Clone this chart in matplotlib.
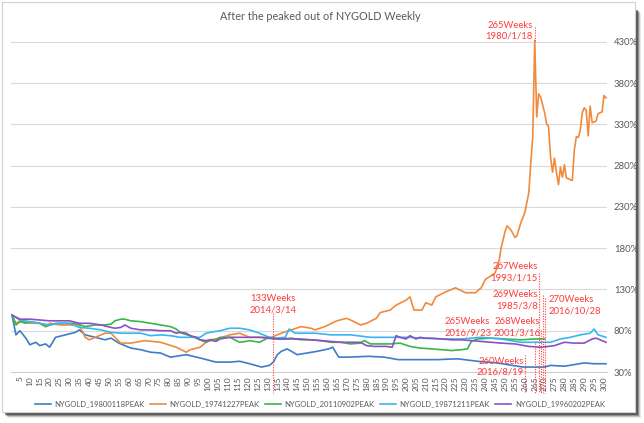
import matplotlib
matplotlib.use('Agg')
import matplotlib.pyplot as plt
from matplotlib.patches import Rectangle

plt.rcParams['font.family'] = ['Lato', 'DejaVu Sans']

# weekly ratio to peak (%) - read off the reference, not every week
wk_1980 = [1, 3, 5, 8, 10, 13, 15, 18, 20, 23, 28, 33, 35, 38, 43, 48, 51, 55, 61, 66, 71, 76, 81, 89,
           96, 104, 111, 116, 121, 127, 131, 133, 135, 137, 140, 145, 150, 155, 161, 163, 166, 171, 181,
           189, 196, 206, 216, 226, 236, 246, 259, 266, 270, 273, 280, 290, 295, 301]
val_1980 = [99, 75, 80, 71, 63, 66, 62, 64, 60, 72, 75, 78, 81, 75, 72, 69, 71, 65, 59, 57, 54, 53, 48, 51,
            47, 42, 42, 43, 40, 36, 38, 42, 51, 55, 58, 51, 53, 55, 58, 60, 48, 48, 49,
            48, 45, 45, 45, 46, 43, 41, 36, 36, 36, 38, 37, 41, 40, 40]

wk_1974 = [1, 3, 5, 10, 15, 18, 20, 25, 30, 35, 38, 40, 43, 48, 51, 53, 56, 61, 68, 76, 84, 89, 91, 96,
           99, 101, 106, 111, 116, 121, 127, 132, 137, 142, 147, 152, 154, 159, 165, 170, 172, 177, 180,
           185, 187, 192, 195, 200, 202, 204, 208, 210, 213, 215, 220, 225, 230, 235, 238, 240, 245, 247,
           248, 250, 251, 253, 255, 256, 258, 260, 262, 263, 264, 265, 266, 267, 268, 270, 271, 272, 273,
           274, 275, 276, 277, 278, 279, 280, 281, 282, 284, 285, 286, 287, 288, 289, 290, 291, 292, 293,
           294, 296, 297, 299, 300, 301]
val_1974 = [99, 89, 92, 89, 89, 85, 89, 87, 87, 87, 72, 69, 72, 77, 77, 72, 65, 65, 68, 66, 60, 54, 57, 60,
            66, 69, 71, 75, 77, 72, 72, 72, 77, 81, 85, 83, 81, 85, 92, 95, 93, 87, 89,
            95, 102, 105, 111, 117, 121, 105, 105, 114, 111, 121, 127, 132, 126, 126, 132, 142, 150, 165,
            180, 200, 207, 202, 193, 195, 211, 223, 247, 283, 315, 432, 339, 367, 363, 344, 331, 327, 290,
            272, 289, 271, 257, 278, 266, 281, 265, 264, 262, 299, 315, 314, 323, 344, 350, 347, 316, 352,
            332, 334, 343, 345, 365, 362]

wk_2011 = [1, 3, 5, 8, 10, 15, 18, 23, 28, 33, 38, 43, 48, 51, 53, 56, 58, 61, 66, 71, 76, 81, 84, 86,
           88, 91, 96, 99, 101, 104, 106, 109, 111, 116, 119, 121, 126, 130, 134, 137, 142, 147, 152,
           157, 162, 167, 172, 177, 179, 182, 187, 192, 197, 202, 207, 213, 218, 223, 228, 231, 233,
           236, 243, 250, 258, 265, 270]
val_2011 = [99, 87, 91, 89, 91, 89, 85, 89, 89, 89, 85, 87, 87, 88, 92, 94, 94, 92, 91, 89, 87, 85, 82, 78,
            76, 74, 69, 66, 68, 69, 72, 72, 72, 66, 67, 68, 66, 71, 70, 70, 71, 69, 69,
            68, 66, 66, 64, 65, 68, 64, 64, 64, 65, 61, 59, 58, 57, 56, 57, 58, 67,
            70, 71, 70, 69, 70, 70]

wk_1987 = [1, 5, 10, 15, 20, 25, 30, 35, 40, 46, 51, 56, 61, 66, 71, 76, 81, 86, 91, 96, 99, 101, 106,
           111, 116, 121, 126, 131, 134, 139, 141, 144, 147, 154, 162, 172, 182, 192, 202, 207, 218, 228,
           233, 238, 248, 258, 268, 273, 278, 283, 288, 293, 295, 297, 301]
val_1987 = [99, 93, 91, 89, 87, 89, 89, 84, 83, 81, 78, 77, 77, 77, 74, 75, 74, 72, 72, 72, 77, 78, 80,
            83, 83, 81, 77, 72, 71, 72, 82, 77, 77, 77, 75, 75, 72, 72, 72, 71, 70, 70,
            71, 72, 70, 66, 66, 66, 70, 72, 75, 77, 82, 75, 72]

wk_1996 = [1, 5, 10, 15, 20, 25, 30, 35, 40, 46, 51, 53, 56, 58, 61, 66, 71, 76, 81, 84, 86, 89, 91, 94,
           96, 99, 101, 104, 106, 111, 116, 121, 126, 131, 136, 142, 147, 152, 157, 162, 167, 172, 177,
           180, 184, 190, 193, 195, 197, 200, 202, 205, 207, 210, 213, 218, 223, 228, 233, 238, 243, 248,
           255, 262, 268, 272, 275, 280, 285, 290, 294, 296, 299, 301]
val_1996 = [99, 94, 94, 93, 92, 92, 92, 89, 89, 87, 84, 83, 84, 87, 83, 81, 81, 80, 80, 77, 78, 77, 74, 72,
            69, 68, 69, 67, 70, 72, 72, 72, 72, 71, 70, 70, 70, 69, 68, 67, 66, 66, 66,
            62, 61, 61, 60, 74, 72, 70, 74, 70, 72, 71, 71, 70, 69, 69, 68, 67, 66, 65,
            64, 61, 60, 61, 62, 66, 65, 65, 70, 71, 68, 66]

series_names = ['NYGOLD_19800118PEAK', 'NYGOLD_19741227PEAK', 'NYGOLD_20110902PEAK',
                'NYGOLD_19871211PEAK', 'NYGOLD_19960202PEAK']
series_colors = ['#3E7CC6', '#F08A3C', '#3BB54A', '#38B6F1', '#8C50C4']

# marked weeks and their labels
notes_week = [133, 260, 265, 267, 268, 269, 270]
notes_text = ['133Weeks\n2014/3/14', '260Weeks\n2016/8/19', '265Weeks\n2016/9/23', '267Weeks\n1993/1/15',
              '268Weeks\n2001/3/16', '269Weeks\n1985/3/8', '270Weeks\n2016/10/28']

RED = '#FF3B3B'
GRAY = '#595959'

fig = plt.figure(figsize=(6.44, 4.23), dpi=100)
W, H = 644, 423

# chart frame with shadow
for i, a in enumerate([0.10, 0.20, 0.35, 0.55]):
    d = 6 - i
    fig.patches.append(Rectangle((2 / W + d / W, 1 - 412 / H - d / H), 633 / W, 405 / H,
                                 transform=fig.transFigure, facecolor='#303030', alpha=a,
                                 edgecolor='none', zorder=0))
fig.patches.append(Rectangle((2 / W, 1 - 412 / H), 633 / W, 410 / H, transform=fig.transFigure,
                             facecolor='white', edgecolor='#D0D0D0', lw=0.8, zorder=1))

ax = fig.add_axes([11 / W, 1 - 372 / H, 596 / W, 336 / H])
ax.set_facecolor('none')
ax.set_zorder(2)

data = [(wk_1980, val_1980), (wk_1974, val_1974), (wk_2011, val_2011), (wk_1987, val_1987), (wk_1996, val_1996)]
handles = []
for (wk, vals), name, col in zip(data, series_names, series_colors):
    h, = ax.plot(wk, vals, color=col, lw=1.2, label=name, solid_joinstyle='round')
    handles.append(h)

ax.set_xlim(0.5, 301.5)
ax.set_ylim(30, 437)
ax.set_yticks(range(30, 431, 50))
ax.set_yticklabels([f'{v}%' for v in range(30, 431, 50)])
ax.yaxis.tick_right()
ax.set_xticks(range(5, 301, 5))
ax.set_xticklabels([str(v) for v in range(5, 301, 5)], rotation=90)
ax.tick_params(axis='x', length=0, pad=3, labelsize=6, labelcolor=GRAY)
ax.tick_params(axis='y', length=0, pad=5, labelsize=6.8, labelcolor=GRAY)
ax.grid(axis='y', color='#D9D9D9', lw=0.8)
ax.set_axisbelow(True)
for s in ['top', 'left', 'right']:
    ax.spines[s].set_visible(False)
ax.spines['bottom'].set_color('#D0D0D0')

# annotations: dotted line top (%), text anchor (week, %), alignment
line_top = [101.5, 50.6, 65, 150, 81, 123, 120]
text_xy = [(133, 100), (259.3, 24), (219.2, 72), (266.6, 139), (267.8, 72), (266.6, 104), (272.2, 98)]
text_ha = ['center', 'right', 'left', 'right', 'right', 'right', 'left']
for wk, txt, top, (tx, ty), ha in zip(notes_week, notes_text, line_top, text_xy, text_ha):
    ax.plot([wk, wk], [top, 4.5], color=RED, lw=0.8, ls=(0, (1, 1.3)), clip_on=False, zorder=5)
    ax.text(tx, ty, txt, color=RED, fontsize=6.8, ha=ha, va='bottom', linespacing=1.35, zorder=6)
ax.plot([265, 265], [448, 430], color=RED, lw=0.8, ls=(0, (1, 1.3)), clip_on=False, zorder=5)
ax.text(264.1, 431, '265Weeks\n1980/1/18', color=RED, fontsize=6.8, ha='right', va='bottom',
        linespacing=1.35, zorder=6)

fig.text(320 / W, 1 - 16 / H, 'After the peaked out of NYGOLD Weekly', ha='center', va='center',
         fontsize=7.8, color=GRAY)

fig.legend(handles=handles, loc='center', bbox_to_anchor=(320 / W, 1 - 404 / H), ncol=5, frameon=False,
           fontsize=5.5, handlelength=2.1, handletextpad=0.45, columnspacing=0.7, labelcolor=GRAY)

fig.savefig('out.png', dpi=100, facecolor='white')
